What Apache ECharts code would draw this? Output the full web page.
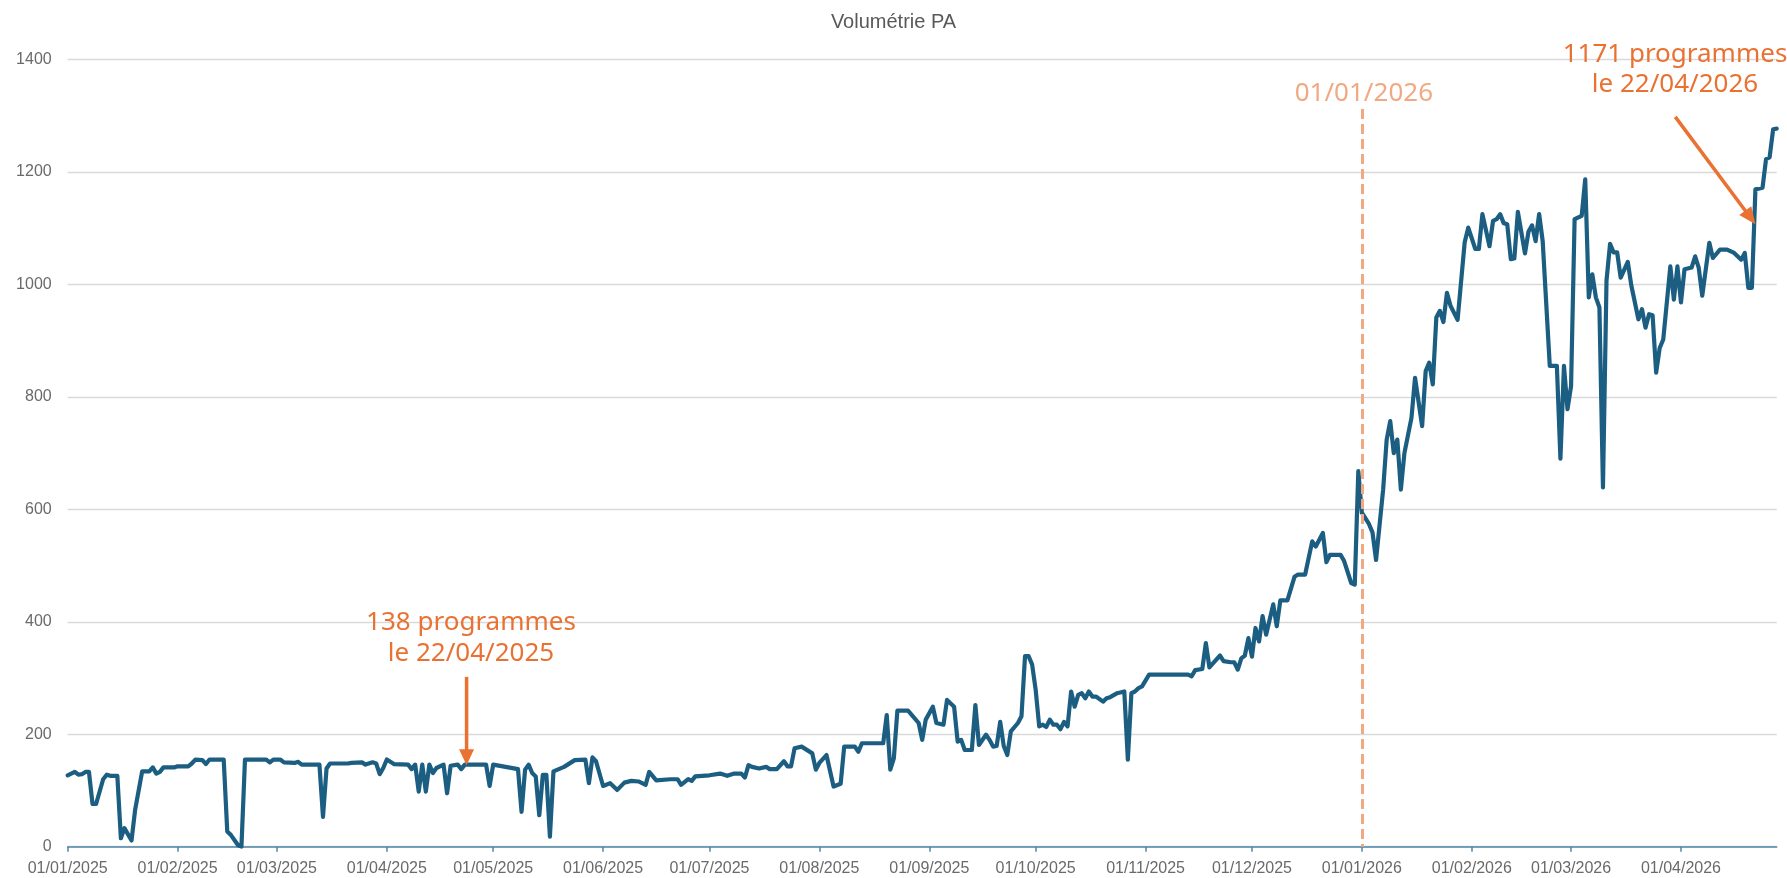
<!DOCTYPE html>
<html>
<head>
<meta charset="utf-8">
<script src="https://cdn.jsdelivr.net/npm/echarts@6/dist/echarts.min.js"></script>
<style>
html,body{margin:0;padding:0;background:#ffffff;}
#chart{width:1787px;height:878px;}
</style>
</head>
<body>
<div id="chart"></div>
<script>
// ---- Data ----
const startDay = [2025, 0, 1];   // 01/01/2025
const endDay = [2026, 3, 28];    // 28/04/2026
// day offset from 01/01/2025 for each read point
const dayIdx = [
  0,2,3,4,5,6,7,8,10,11,12,14,15,16,18,19,21,23,24,25,26,27,30,31,34,35,36,38,39,40,44,45,46,48,49,50,
  56,57,58,60,61,64,65,66,71,72,73,74,79,80,83,84,86,87,88,89,90,92,96,97,98,99,100,101,102,103,104,106,
  107,108,110,111,112,118,119,120,127,128,129,130,131,132,133,134,135,136,137,140,143,146,147,148,149,151,
  153,155,157,159,161,163,164,166,170,172,173,175,176,177,181,184,186,188,190,191,192,193,195,197,198,200,
  202,203,204,205,207,208,210,211,212,214,216,218,219,222,223,224,230,231,232,233,234,237,240,241,242,244,
  245,247,248,250,251,252,253,255,256,257,259,260,261,262,263,264,265,266,268,269,270,271,272,273,274,275,
  276,277,278,279,280,281,282,283,284,285,286,287,288,289,290,292,293,294,296,298,299,300,301,302,303,305,
  316,317,318,320,321,322,323,325,326,328,329,330,331,332,333,334,335,336,337,338,340,341,342,344,346,347,
  349,351,352,354,355,356,359,360,362,363,364,365,367,368,369,371,372,373,374,375,376,377,379,380,382,383,
  384,385,386,387,388,389,390,392,393,394,395,397,398,399,401,402,403,404,405,406,407,408,409,410,411,412,
  413,414,415,416,418,420,421,422,423,424,425,427,428,429,430,431,432,433,434,435,436,437,438,440,441,443,
  444,445,446,447,448,449,450,452,453,454,455,456,458,459,460,461,463,464,466,468,470,472,473,474,475,476,
  478,479,480,481,482
];
// number of "programmes" at each read point
const volumes = [
  127,133,128,129,133,133,76,76,120,128,126,126,15,33,11,65,134,134,141,130,133,141,141,143,143,148,155,154,147,155,155,27,21,3,0,155,
  155,150,155,155,150,149,151,146,146,53,139,148,148,149,150,146,150,148,129,140,155,147,146,138,146,98,146,98,146,131,140,146,
  95,144,146,138,146,146,108,146,138,62,137,146,131,125,56,128,128,18,134,142,154,155,113,159,152,108,
  113,101,114,117,116,110,133,118,120,120,110,120,117,125,127,130,126,130,130,123,145,142,139,142,138,138,
  152,143,143,175,178,174,166,137,149,163,107,112,178,178,169,184,184,234,137,157,242,242,220,190,226,249,
  220,217,261,249,187,190,172,172,252,181,199,190,178,179,222,179,163,205,220,232,339,339,324,279,214,217,
  213,226,217,217,209,222,214,276,249,270,273,264,276,267,267,258,264,266,273,276,155,273,276,282,285,306,
  306,303,314,316,362,319,326,340,330,328,328,315,335,340,371,338,389,365,410,377,431,392,438,438,480,484,
  484,543,534,558,506,519,519,508,469,466,668,594,574,559,510,635,724,757,700,724,635,700,763,834,748,846,
  861,822,941,953,933,985,962,937,1006,1075,1101,1063,1063,1125,1068,1113,1116,1125,1109,1107,1045,1046,1129,1092,1055,1094,
  1105,1077,1125,1077,855,855,690,855,778,819,1116,1122,1187,977,1018,977,959,639,1007,1072,1057,1057,1012,1040,998,938,
  956,923,947,945,843,887,902,1032,973,1032,968,1027,1030,1050,1030,980,1074,1047,1062,1062,1056,1044,1056,994,994,1169,
  1172,1223,1226,1276,1277
];
const yTicks = { min: 0, max: 1400, step: 200 };
const chartTitle = 'Volumétrie PA';
const markerDate = '01/01/2026';
const note1 = { text: '138 programmes\nle 22/04/2025', tail: [112.5, 302], tip: [112.5, 145] };
const note2 = { text: '1171 programmes\nle 22/04/2026', tail: [453.4, 1298], tip: [476.0, 1107] };

// ---- Categories (one per day) ----
function fmt(d) {
  return String(d.getUTCDate()).padStart(2, '0') + '/' +
         String(d.getUTCMonth() + 1).padStart(2, '0') + '/' + d.getUTCFullYear();
}
const categories = [];
for (let t = Date.UTC(...startDay); t <= Date.UTC(...endDay); t += 86400000) {
  categories.push(fmt(new Date(t)));
}
const seriesData = dayIdx.map((d, i) => [categories[d], volumes[i]]);
const isMonthStart = (idx, val) => val.slice(0, 3) === '01/';

const ORANGE = '#E97132';
const LIGHT_ORANGE = '#F1A983';
const GREY = '#6a6a6a';

const chart = echarts.init(document.getElementById('chart'), null, { renderer: 'canvas' });
chart.setOption({
  animation: false,
  backgroundColor: '#ffffff',
  title: {
    text: chartTitle,
    left: 'center',
    top: 7,
    textStyle: { fontSize: 20, fontWeight: 'normal', color: '#595959', fontFamily: 'Liberation Sans' }
  },
  grid: { left: 67.7, right: 10.3, top: 59.5, bottom: 31.3 },
  xAxis: {
    type: 'category',
    data: categories,
    boundaryGap: false,
    axisLine: { lineStyle: { color: '#4f86a8', width: 1.5 } },
    axisTick: { interval: isMonthStart, length: 5, lineStyle: { color: '#4f86a8', width: 1.5 } },
    axisLabel: { interval: isMonthStart, color: GREY, fontSize: 16, fontFamily: 'Liberation Sans', margin: 14 },
    splitLine: { show: false }
  },
  yAxis: {
    type: 'value',
    min: yTicks.min, max: yTicks.max, interval: yTicks.step,
    axisLine: { show: false },
    axisTick: { show: false },
    axisLabel: { color: GREY, fontSize: 16, fontFamily: 'Liberation Sans', margin: 16, formatter: v => String(v) },
    splitLine: { lineStyle: { color: '#d9d9d9', width: 1.3 } }
  },
  series: [{
    type: 'line',
    data: seriesData,
    showSymbol: false,
    symbol: 'none',
    lineStyle: { color: '#1b5e82', width: 4.2, join: 'round', cap: 'round' },
    z: 3,
    markLine: {
      silent: true,
      symbol: ['none', 'none'],
      label: { show: false },
      lineStyle: { type: [10, 5], color: LIGHT_ORANGE, width: 3 },
      data: [[{ coord: [markerDate, 1312] }, { coord: [markerDate, 0] }]]
    }
  }]
});

// ---- Annotations positioned from the axes ----
const p0 = chart.convertToPixel({ xAxisIndex: 0, yAxisIndex: 0 }, [0, 0]);
const pN = chart.convertToPixel({ xAxisIndex: 0, yAxisIndex: 0 }, [categories.length - 1, yTicks.max]);
const nDays = categories.length - 1;
function px(day, val) {
  return [p0[0] + (pN[0] - p0[0]) * day / nDays, p0[1] + (pN[1] - p0[1]) * val / yTicks.max];
}
function arrow(tail, tip, headLen, headW) {
  const a = px(tail[0], tail[1]), b = px(tip[0], tip[1]);
  const dx = b[0] - a[0], dy = b[1] - a[1], L = Math.hypot(dx, dy);
  const ux = dx / L, uy = dy / L, nx = -uy, ny = ux;
  const base = [b[0] - ux * headLen, b[1] - uy * headLen];
  return [
    { type: 'line', silent: true, z: 10,
      shape: { x1: a[0], y1: a[1], x2: base[0] + ux * 2, y2: base[1] + uy * 2 },
      style: { stroke: ORANGE, lineWidth: 3.5 } },
    { type: 'polygon', silent: true, z: 10,
      shape: { points: [b, [base[0] + nx * headW / 2, base[1] + ny * headW / 2], [base[0] - nx * headW / 2, base[1] - ny * headW / 2]] },
      style: { fill: ORANGE } }
  ];
}
const mk = px(categories.indexOf(markerDate), 0);
chart.setOption({
  graphic: [
    ...arrow(note1.tail, note1.tip, 16, 15),
    ...arrow(note2.tail, note2.tip, 17, 15),
    { type: 'text', silent: true, z: 10, x: 471, y: 607,
      style: { text: note1.text, fill: ORANGE, font: '26px "Noto Sans"', lineHeight: 31, align: 'center', verticalAlign: 'top' } },
    { type: 'text', silent: true, z: 10, x: 1675, y: 40,
      style: { text: note2.text, fill: ORANGE, font: '26px "Noto Sans"', lineHeight: 30, align: 'center', verticalAlign: 'top' } },
    { type: 'text', silent: true, z: 10, x: mk[0] + 2, y: 94,
      style: { text: markerDate, fill: LIGHT_ORANGE, font: '26px "Noto Sans"', align: 'center', verticalAlign: 'middle' } }
  ]
});
</script>
</body>
</html>
